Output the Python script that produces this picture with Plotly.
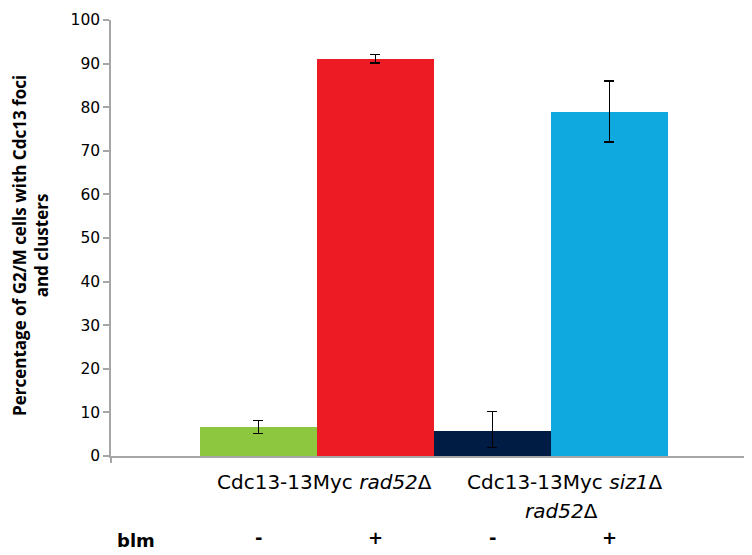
import plotly.graph_objects as go

conditions = ["rad52 -blm", "rad52 +blm", "siz1 rad52 -blm", "siz1 rad52 +blm"]
values = [6.6, 91.1, 5.8, 79.0]
err_plus = [1.6, 1.0, 4.4, 7.0]
err_minus = [1.4, 1.0, 3.8, 7.0]
colors = ["#8DC63F", "#ED1C24", "#001B44", "#0FA9E0"]
group_line1 = ["Cdc13-13Myc <i>rad52</i>Δ", "Cdc13-13Myc <i>siz1</i>Δ"]
group_line2 = ["", "<i>rad52</i>Δ"]
blm_signs = ["-", "+", "-", "+"]
y_ticks = [0, 10, 20, 30, 40, 50, 60, 70, 80, 90, 100]

xpos = list(range(len(values)))

fig = go.Figure()
fig.add_trace(go.Bar(
    x=xpos, y=values, width=1.0,
    marker=dict(color=colors, line=dict(width=0)),
    error_y=dict(type="data", array=err_plus, arrayminus=err_minus, symmetric=False,
                 color="black", thickness=1.5, width=5),
    showlegend=False,
))

grey = "#A6A6A6"
XMIN, XMAX = -1.26, 4.22
fig.update_layout(
    width=744, height=547,
    margin=dict(l=103, r=0, t=12, b=99),
    plot_bgcolor="white", paper_bgcolor="white",
    bargap=0,
    xaxis=dict(range=[XMIN, XMAX], showline=True, linecolor=grey, linewidth=1.5,
               showgrid=False, zeroline=False, tickvals=[XMIN], ticktext=[""],
               ticks="outside", ticklen=5, tickcolor=grey, tickwidth=1.5),
    yaxis=dict(range=[0, 100], tickvals=y_ticks, showline=True, linecolor=grey, linewidth=1.5,
               showgrid=False, zeroline=False, ticks="outside", ticklen=6, tickcolor=grey,
               tickwidth=1.5, tickfont=dict(family="DejaVu Sans", size=15.5, color="black")),
    font=dict(family="DejaVu Sans", color="black"),
)

def py_shift(py):
    return -(py - 456)

group_centers_l1 = [0.568, 2.62]
group_centers_l2 = [0.568, 2.59]
for i in range(2):
    fig.add_annotation(x=group_centers_l1[i], y=0, xref="x", yref="paper", text=group_line1[i],
                       showarrow=False, yanchor="middle", yshift=py_shift(482),
                       font=dict(family="DejaVu Sans", size=20))
    if group_line2[i]:
        fig.add_annotation(x=group_centers_l2[i], y=0, xref="x", yref="paper", text=group_line2[i],
                           showarrow=False, yanchor="middle", yshift=py_shift(511),
                           font=dict(family="DejaVu Sans", size=20))
for i, s in enumerate(blm_signs):
    fig.add_annotation(x=i, y=0, xref="x", yref="paper", text="<b>" + s + "</b>", showarrow=False,
                       yanchor="middle", yshift=py_shift(537), font=dict(family="DejaVu Sans", size=18))
fig.add_annotation(x=XMIN + 4 / 117, y=0, xref="x", yref="paper", text="<b>blm</b>", showarrow=False,
                   xanchor="left", yanchor="middle", yshift=py_shift(540),
                   font=dict(family="DejaVu Sans", size=18))

fig.add_annotation(x=0, y=0.5, xref="paper", yref="paper", xanchor="center", yanchor="middle",
                   xshift=-81, yshift=-8,
                   text="<b>Percentage of G2/M cells with Cdc13 foci<br>and clusters</b>",
                   textangle=-90, showarrow=False, font=dict(family="Open Sans", size=17))

fig.write_html("out.html")
